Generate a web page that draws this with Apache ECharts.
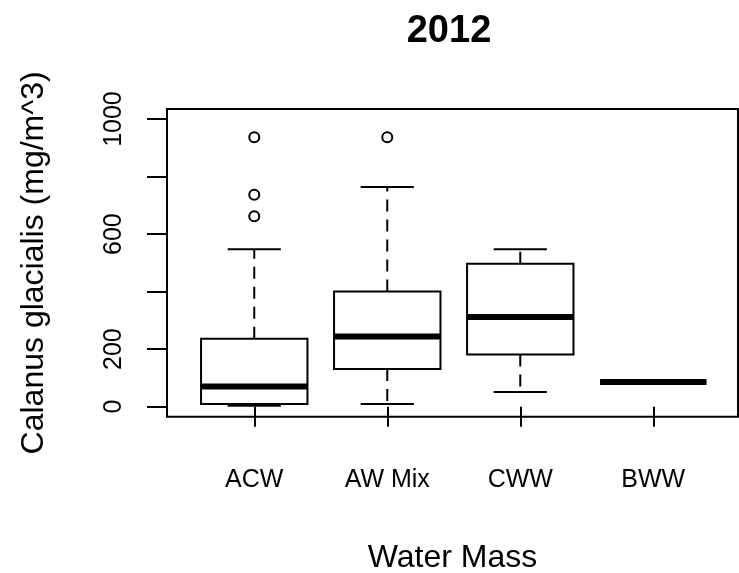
<!DOCTYPE html>
<html>
<head>
<meta charset="utf-8">
<script src="https://cdn.jsdelivr.net/npm/echarts@6/dist/echarts.min.js"></script>
<style>html,body{margin:0;padding:0;background:#fff;}#chart{width:739px;height:573px;}</style>
</head>
<body>
<div id="chart"></div>
<script>
const categories = ['ACW', 'AW Mix', 'CWW', 'BWW'];
const lowWhisker = [3, 9, 51, 86];
const q1 = [9, 131, 181, 86];
const median = [70, 244, 312, 86];
const q3 = [236, 400, 497, 86];
const highWhisker = [547, 764, 547, 86];
const outlierCategory = [0, 0, 0, 1];
const outlierValue = [937, 737, 662, 937];
const yTickValues = [0, 200, 400, 600, 800, 1000];
const yLabelValues = [0, 200, 600, 1000];
const titleText = '2012';
const xTitle = 'Water Mass';
const yTitle = 'Calanus glacialis (mg/m^3)';

const FONT = '"Liberation Sans", Arial, sans-serif';
const catPos = categories.map((c, i) => i + 1);
const boxData = categories.map((c, i) => [catPos[i], lowWhisker[i], q1[i], median[i], q3[i], highWhisker[i]]);
const outlierData = outlierCategory.map((c, i) => [catPos[c], outlierValue[i]]);

function renderBox(params, api) {
  const x = api.value(0);
  const pLow = api.coord([x, api.value(1)]);
  const pQ1 = api.coord([x, api.value(2)]);
  const pMed = api.coord([x, api.value(3)]);
  const pQ3 = api.coord([x, api.value(4)]);
  const pHigh = api.coord([x, api.value(5)]);
  const halfBox = api.size([0.4, 0])[0];
  const halfCap = api.size([0.2, 0])[0];
  const cx = pMed[0];
  const thin = { stroke: '#000', lineWidth: 2, fill: null };
  const dashed = { stroke: '#000', lineWidth: 2, lineDash: [12, 8], fill: null };
  const children = [];
  if (pQ3[1] - pHigh[1] > 0.5) {
    children.push({ type: 'line', shape: { x1: cx, y1: pQ3[1], x2: cx, y2: pHigh[1] }, style: dashed });
  }
  if (pLow[1] - pQ1[1] > 0.5) {
    children.push({ type: 'line', shape: { x1: cx, y1: pQ1[1], x2: cx, y2: pLow[1] }, style: dashed });
  }
  children.push({ type: 'line', shape: { x1: cx - halfCap, y1: pHigh[1], x2: cx + halfCap, y2: pHigh[1] }, style: thin });
  children.push({ type: 'line', shape: { x1: cx - halfCap, y1: pLow[1], x2: cx + halfCap, y2: pLow[1] }, style: thin });
  children.push({ type: 'rect', shape: { x: cx - halfBox, y: pQ3[1], width: 2 * halfBox, height: pQ1[1] - pQ3[1] }, style: { stroke: '#000', lineWidth: 2, fill: '#fff' } });
  children.push({ type: 'line', shape: { x1: cx - halfBox, y1: pMed[1], x2: cx + halfBox, y2: pMed[1] }, style: { stroke: '#000', lineWidth: 6 } });
  return { type: 'group', children: children };
}

const chart = echarts.init(document.getElementById('chart'), null, { renderer: 'canvas' });
chart.setOption({
  animation: false,
  backgroundColor: '#fff',
  title: {
    text: titleText,
    left: 449,
    top: 13,
    textAlign: 'center',
    padding: 0,
    textStyle: { fontFamily: FONT, fontSize: 38, fontWeight: 'bold', color: '#000' }
  },
  grid: {
    left: 167, top: 109, width: 571, height: 307.7,
    show: true, borderColor: '#000', borderWidth: 2, backgroundColor: 'transparent',
    containLabel: false, outerBoundsMode: 'none'
  },
  xAxis: {
    type: 'value',
    min: 0.344,
    max: 4.637,
    name: xTitle,
    nameLocation: 'middle',
    nameGap: 125,
    nameTextStyle: { fontFamily: FONT, fontSize: 32, color: '#000' },
    axisLine: { show: false },
    splitLine: { show: false },
    axisTick: { show: true, customValues: catPos, length: 20, lineStyle: { color: '#000', width: 2 } },
    axisLabel: {
      customValues: catPos,
      formatter: v => categories[Math.round(v) - 1],
      fontFamily: FONT, fontSize: 25, color: '#000', margin: 51
    }
  },
  yAxis: {
    type: 'value',
    min: -35,
    max: 1035,
    name: yTitle,
    nameLocation: 'middle',
    nameRotate: 90,
    nameGap: 117,
    nameTextStyle: { fontFamily: FONT, fontSize: 32, color: '#000' },
    axisLine: { show: false },
    splitLine: { show: false },
    axisTick: { show: true, customValues: yTickValues, length: 20, lineStyle: { color: '#000', width: 2 } },
    axisLabel: {
      customValues: yLabelValues,
      formatter: v => String(Math.round(v)),
      rotate: 90,
      fontFamily: FONT, fontSize: 25, color: '#000', margin: 40
    }
  },
  series: [
    {
      type: 'custom',
      renderItem: renderBox,
      data: boxData,
      encode: { x: 0, y: [1, 2, 3, 4, 5] },
      clip: false,
      z: 2
    },
    {
      type: 'scatter',
      data: outlierData,
      symbol: 'circle',
      symbolSize: 10,
      itemStyle: { color: '#fff', borderColor: '#000', borderWidth: 2, opacity: 1 },
      z: 3
    }
  ]
});
</script>
</body>
</html>
